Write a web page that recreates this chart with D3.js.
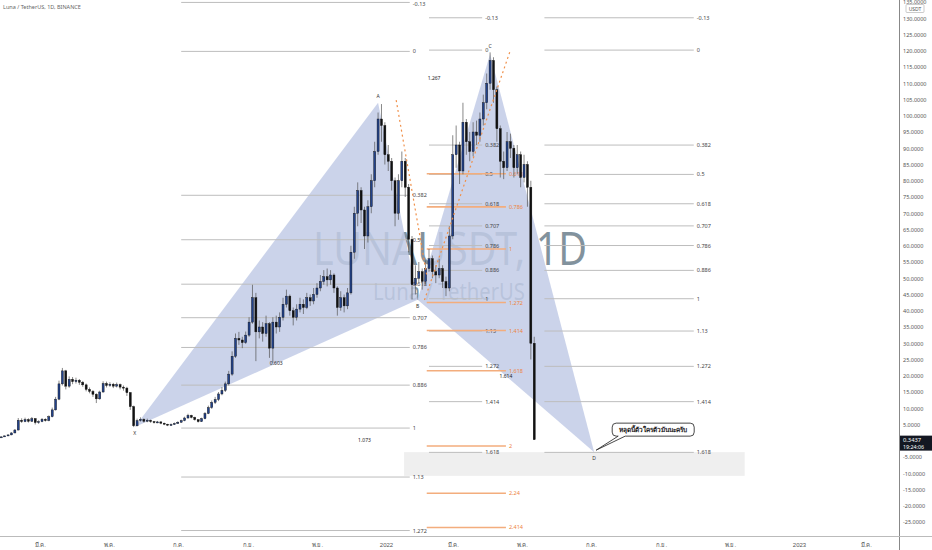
<!DOCTYPE html>
<html><head><meta charset="utf-8">
<script src="https://cdn.jsdelivr.net/npm/d3@7"></script>
<style>
body{margin:0;background:#fff;overflow:hidden}
svg{display:block;font-family:"Noto Sans","DejaVu Sans",sans-serif}
</style>
</head><body><svg id="c" width="932" height="550"></svg>
<script>
// ---------- DATA ----------
const startDate = "2021-01-23";
const stepDays = 3;
const closes = [1.1,1.2,1.5,1.8,2.4,3.3,6.3,5.9,6.5,6.0,
6.8,5.6,5.9,6.6,6.2,7.4,9.5,12.8,17.5,21.5,
16.8,18.9,18.2,18.6,18.0,17.2,15.8,15.2,14.3,12.9,
15.0,17.6,17.0,17.4,16.8,17.3,16.5,16.2,14.8,10.5,
4.6,6.2,6.6,6.0,6.3,5.9,5.6,5.8,5.4,5.1,
4.8,5.0,5.3,5.7,6.2,7.0,7.8,7.2,6.5,5.9,
6.8,8.4,10.2,11.8,12.7,14.4,15.5,17.5,20.5,26.0,
31.5,31.0,30.2,32.5,36.5,44.0,33.5,35.0,33.0,36.0,
28.5,36.5,35.0,38.0,42.0,44.5,40.0,38.0,40.5,42.0,
41.0,44.0,43.0,45.0,47.0,49.0,50.5,49.5,51.0,47.0,
41.0,44.0,41.5,45.5,58.0,70.0,77.0,71.0,63.0,72.0,
80.0,89.0,99.0,97.0,88.0,86.0,80.0,70.0,80.0,86.0,
78.0,62.0,48.0,50.0,52.0,49.0,53.0,56.0,52.0,51.0,
53.0,49.0,47.0,63.0,88.0,91.0,83.0,98.0,92.0,89.0,
95.0,94.0,99.0,104.0,110.0,117.0,108.0,96.0,86.0,84.0,
92.0,90.0,84.0,88.0,81.0,85.0,78.0,30.0,0.34];
const highs = [1.2,1.3,1.6,1.95,2.6,3.6,7.0,6.9,7.1,6.9,
7.3,7.0,6.3,7.0,6.9,7.8,10.2,13.5,18.5,22.4,
21.8,19.8,19.6,19.4,19.0,18.4,17.6,16.4,15.6,14.6,
15.4,18.3,18.2,18.0,17.8,17.9,17.6,17.0,16.6,15.0,
10.8,6.8,7.2,6.9,6.8,6.5,6.1,6.1,6.0,5.6,
5.2,5.3,5.6,6.0,6.5,7.4,8.3,8.0,7.4,6.6,
7.1,8.8,10.8,12.4,13.5,15.0,16.5,18.2,21.5,27.5,
33.0,33.5,32.0,33.6,38.0,48.0,45.5,37.0,36.5,38.5,
36.5,38.0,38.5,39.5,44.0,46.5,45.0,41.0,42.0,44.0,
43.5,45.5,45.0,47.0,48.5,51.0,52.5,53.0,52.5,51.5,
47.5,46.0,45.0,47.0,60.0,72.0,79.5,78.0,72.0,74.0,
82.0,92.0,101.0,103.6,98.0,91.0,87.0,81.0,82.0,89.0,
87.0,79.0,63.0,54.0,55.0,53.0,55.5,59.0,57.0,54.0,
56.0,54.0,50.5,66.0,94.0,97.0,92.0,104.0,99.0,95.0,
98.0,98.5,101.0,106.5,113.0,119.5,118.0,109.0,97.0,89.0,
95.0,94.5,91.0,91.0,89.0,88.0,86.0,80.0,32.0];
const lows = [0.95,1.05,1.15,1.4,1.7,2.3,3.2,5.5,5.7,5.6,
5.8,5.0,5.2,5.7,5.9,6.0,7.2,9.3,12.5,17.0,
15.8,16.3,17.4,17.6,17.2,16.6,15.2,14.6,13.5,11.6,
12.6,14.8,16.4,16.6,16.2,16.4,15.8,15.4,13.8,9.5,
4.2,4.4,5.9,5.6,5.7,5.5,5.3,5.4,5.1,4.8,
4.5,4.6,4.9,5.2,5.5,6.0,6.8,6.9,6.2,5.6,
5.8,6.6,8.2,9.8,11.3,12.2,14.0,15.0,17.0,20.0,
25.5,29.5,28.5,29.8,32.0,36.0,24.5,31.5,30.5,32.0,
25.5,24.0,33.0,33.5,37.0,41.0,38.5,35.5,37.0,39.5,
39.0,40.5,41.5,42.0,44.0,46.0,48.0,47.5,48.0,45.5,
38.5,40.0,39.5,40.5,45.0,56.0,66.0,67.0,59.0,61.0,
70.0,78.0,88.0,92.0,85.0,83.0,77.0,66.0,68.0,78.0,
75.0,58.0,43.5,45.0,48.5,46.5,48.0,52.0,50.0,48.5,
50.0,47.0,44.5,46.0,62.0,84.0,79.0,82.0,88.0,86.0,
87.5,91.0,92.0,97.0,102.0,108.0,104.0,92.0,81.0,80.5,
83.0,87.0,81.0,82.0,78.0,79.5,72.0,25.0,0.3];
const firstOpen = 1.0;

const priceTicks = [135,130,125,120,115,110,105,100,95,90,85,80,75,70,65,60,55,50,45,40,35,30,25,20,15,10,5,-5,-10,-15,-20,-25];
const timeTickDates = ["2021-03-01","2021-05-01","2021-07-01","2021-09-01","2021-11-01","2022-01-01","2022-03-01","2022-05-01","2022-07-01","2022-09-01","2022-11-01","2023-01-01","2023-03-01"];
const timeTickLabels = ["มี.ค.","พ.ค.","ก.ค.","ก.ย.","พ.ย.","2022","มี.ค.","พ.ค.","ก.ค.","ก.ย.","พ.ย.","2023","มี.ค."];

// XABCD pattern
const patternNames = ["X","A","B","C","D"];
const patternDates = ["2021-05-24","2021-12-25","2022-01-29","2022-04-03","2022-07-04"];
const patternPrices = [4.2,104,43.4,119,-3.5];
const ratioLabels = ["0.603","1.267","1.614","1.073"]; // XB, AC, BD, XD

// dotted projection lines [date, price] pairs
const dotLine1 = [["2022-01-10",104.8],["2022-02-06",50.9]];
const dotLine2 = [["2022-02-04",43.3],["2022-04-21",120.2]];

// Fibonacci sets
const fibLevelsA = [-0.13,0,0.382,0.5,0.618,0.707,0.786,0.886,1,1.13,1.272];
const fib1 = {p0:119.8, p1:3.9, from:"2021-07-04", to:"2022-01-22"};
const fibLevelsB = [-0.13,0,0.382,0.5,0.618,0.707,0.786,0.886,1,1.13,1.272,1.414,1.618];
const fib2 = {p0:120.2, p1:43.7, from:"2022-02-08", to:"2022-03-27"};
const fib4 = {p0:120.2, p1:43.7, from:"2022-05-21", to:"2022-09-30"};
const fibLevelsC = [0.618,0.786,1,1.272,1.414,1.618,2,2.24,2.414];
const fib3 = {p0:119.6, p1:59.0, from:"2022-02-06", to:"2022-04-17"};

const zoneBox = {from:"2022-01-17", to:"2022-11-14", top:-3.5, bottom:-10.8};
const lastPrice = "0.3437", lastTime = "19:24:06";
const calloutText = "หลุดนี้ตัวใครตัวมันนะครับ";

// ---------- CHART ----------
const parse = d3.utcParse("%Y-%m-%d");
const svg = d3.select("#c");
const W = 932, H = 550, axisX = 899, timeY = 536;

const x = d3.scaleUtc().domain([parse("2022-01-01"), parse("2023-01-01")]).range([386, 799]);
const y = d3.scaleLinear().domain([0, 130]).range([440.75, 18.25]);

const plot = svg.append("g");
svg.append("clipPath").attr("id","pc").append("rect").attr("x",0).attr("y",0).attr("width",axisX).attr("height",timeY);
plot.attr("clip-path","url(#pc)");

// watermark
plot.append("text").attr("x",450).attr("y",265).attr("text-anchor","middle")
  .attr("font-size",46).attr("textLength",274).attr("lengthAdjust","spacingAndGlyphs")
  .attr("fill","#6d7f8c").attr("opacity",0.85).text("LUNAUSDT, 1D");
plot.append("text").attr("x",449).attr("y",300).attr("text-anchor","middle")
  .attr("font-size",23).attr("textLength",152).attr("lengthAdjust","spacingAndGlyphs")
  .attr("fill","#6d7f8c").attr("opacity",0.85).text("Luna / TetherUS");

// zone box
plot.append("rect").attr("x",x(parse(zoneBox.from))).attr("y",y(zoneBox.top))
  .attr("width",x(parse(zoneBox.to))-x(parse(zoneBox.from)))
  .attr("height",y(zoneBox.bottom)-y(zoneBox.top)).attr("fill","#efefef");

// pattern triangles
const P = patternDates.map((d,i)=>[x(parse(d)), y(patternPrices[i])]);
const tri = [[P[0],P[1],P[2]],[P[2],P[3],P[4]]];
plot.selectAll(".tri").data(tri).enter().append("path")
  .attr("d", t => d3.line()(t)+"Z").attr("fill","#c2cbe6").attr("opacity",0.85);

// fib sets
function drawFib(levels, f, lineColor, textColor, width){
  const x0 = x(parse(f.from)), x1 = x(parse(f.to));
  const g = plot.append("g");
  levels.forEach(l=>{
    const py = y(f.p0 + (f.p1-f.p0)*l);
    g.append("line").attr("x1",x0).attr("x2",x1).attr("y1",py).attr("y2",py)
      .attr("stroke",lineColor).attr("stroke-width",width);
    g.append("text").attr("x",x1+3).attr("y",Math.max(py+2,5.5)).attr("font-size",5.5)
      .attr("fill",textColor).text(String(l));
  });
}
drawFib(fibLevelsA, fib1, "#bdbdbd", "#444", 1);
drawFib(fibLevelsB, fib2, "#bdbdbd", "#444", 1);
drawFib(fibLevelsB, fib4, "#bdbdbd", "#444", 1);
drawFib(fibLevelsC, fib3, "#f3ad7d", "#ee8440", 1.6);

// candles
const start = parse(startDate);
const candles = closes.map((c,i)=>({d:d3.utcDay.offset(start, i*stepDays), o: i?closes[i-1]:firstOpen, c, h:highs[i], l:lows[i]}));
const cw = (x(d3.utcDay.offset(start,stepDays)) - x(start)) * 0.6;
const cg = plot.append("g");
cg.selectAll(".wk").data(candles).enter().append("line")
  .attr("x1", d=>x(d.d)).attr("x2", d=>x(d.d))
  .attr("y1", d=>y(d.h)).attr("y2", d=>y(d.l))
  .attr("stroke","#555").attr("stroke-width",0.7);
cg.selectAll(".cd").data(candles).enter().append("rect")
  .attr("x", d=>x(d.d)-cw/2).attr("width",cw)
  .attr("y", d=>y(Math.max(d.o,d.c)))
  .attr("height", d=>Math.max(1, Math.abs(y(d.o)-y(d.c))))
  .attr("fill", d=> d.c>=d.o ? "#22428a" : "#111")
  .attr("stroke","#111").attr("stroke-width",0.4);

// dotted lines
[dotLine1, dotLine2].forEach(L=>{
  plot.append("line").attr("x1",x(parse(L[0][0]))).attr("y1",y(L[0][1]))
    .attr("x2",x(parse(L[1][0]))).attr("y2",y(L[1][1]))
    .attr("stroke","#f0904a").attr("stroke-width",1.2).attr("stroke-dasharray","2,3");
});

// pattern labels
const offs = [8,-5,8,-6,8];
P.forEach((p,i)=>{
  plot.append("text").attr("x",p[0]).attr("y",p[1]+offs[i]).attr("text-anchor","middle")
    .attr("font-size",5).attr("fill","#333").text(patternNames[i]);
});
const pairs = [[0,2],[1,3],[2,4],[0,4]];
pairs.forEach((pr,i)=>{
  const mx = (P[pr[0]][0]+P[pr[1]][0])/2, my = (P[pr[0]][1]+P[pr[1]][1])/2;
  plot.append("text").attr("x",mx).attr("y",my+2).attr("text-anchor","middle")
    .attr("font-size",5).attr("fill","#222").text(ratioLabels[i]);
});

// callout
const D = P[4];
const cb = {x:D[0]+18, y:D[1]-29, w:82, h:13};
const callG = plot.append("g");
callG.append("path").attr("d",
  `M${cb.x+4},${cb.y} H${cb.x+cb.w-4} Q${cb.x+cb.w},${cb.y} ${cb.x+cb.w},${cb.y+4} V${cb.y+cb.h-4} Q${cb.x+cb.w},${cb.y+cb.h} ${cb.x+cb.w-4},${cb.y+cb.h} H${cb.x+13} L${D[0]+2},${D[1]-2} L${cb.x+6},${cb.y+cb.h} H${cb.x+4} Q${cb.x},${cb.y+cb.h} ${cb.x},${cb.y+cb.h-4} V${cb.y+4} Q${cb.x},${cb.y} ${cb.x+4},${cb.y} Z`)
  .attr("fill","#fff").attr("stroke","#333").attr("stroke-width",0.9);
callG.append("text").attr("x",cb.x+cb.w/2).attr("y",cb.y+9).attr("text-anchor","middle")
  .attr("font-size",6.5).attr("font-weight","bold").attr("fill","#222").text(calloutText);

// title
svg.append("text").attr("x",3).attr("y",9).attr("font-size",5.5).attr("fill","#666")
  .text("Luna / TetherUS, 1D, BINANCE");

// axes lines
svg.append("line").attr("x1",axisX+0.5).attr("x2",axisX+0.5).attr("y1",0).attr("y2",H).attr("stroke","#888").attr("stroke-width",1);
svg.append("line").attr("x1",0).attr("x2",W).attr("y1",timeY+0.5).attr("y2",timeY+0.5).attr("stroke","#bbb").attr("stroke-width",1);

// right axis
const fmt = d3.formatLocale({decimal:".",thousands:",",grouping:[3],currency:["",""],minus:"-"}).format(".4f");
const ra = svg.append("g").attr("transform",`translate(${axisX+3},0)`)
  .call(d3.axisRight(y).tickValues(priceTicks).tickFormat(fmt).tickSize(0).tickPadding(1));
ra.select(".domain").remove();
ra.selectAll("text").attr("font-size",5.5).attr("fill","#555").attr("font-family","'Noto Sans',sans-serif");

// USDT box
svg.append("rect").attr("x",906).attr("y",4.5).attr("width",18).attr("height",8).attr("fill","#fff").attr("stroke","#aaa").attr("stroke-width",0.6).attr("rx",1);
svg.append("text").attr("x",915).attr("y",10.5).attr("text-anchor","middle").attr("font-size",5).attr("fill","#555").text("USDT");

// last price label
svg.append("rect").attr("x",axisX+1).attr("y",y(0.3437)-4).attr("width",32).attr("height",15).attr("fill","#131722");
svg.append("text").attr("x",903).attr("y",y(0.3437)+2).attr("font-size",5.8).attr("fill","#fff").text(lastPrice);
svg.append("text").attr("x",903).attr("y",y(0.3437)+9).attr("font-size",5.3).attr("fill","#fff").text(lastTime);

// bottom axis
const ba = svg.append("g").attr("transform",`translate(0,${timeY+4})`)
  .call(d3.axisBottom(x).tickValues(timeTickDates.map(parse)).tickFormat((d,i)=>timeTickLabels[i]).tickSize(0));
ba.select(".domain").remove();
ba.selectAll("text").attr("font-size",6).attr("fill","#555");
</script>
</body></html>
